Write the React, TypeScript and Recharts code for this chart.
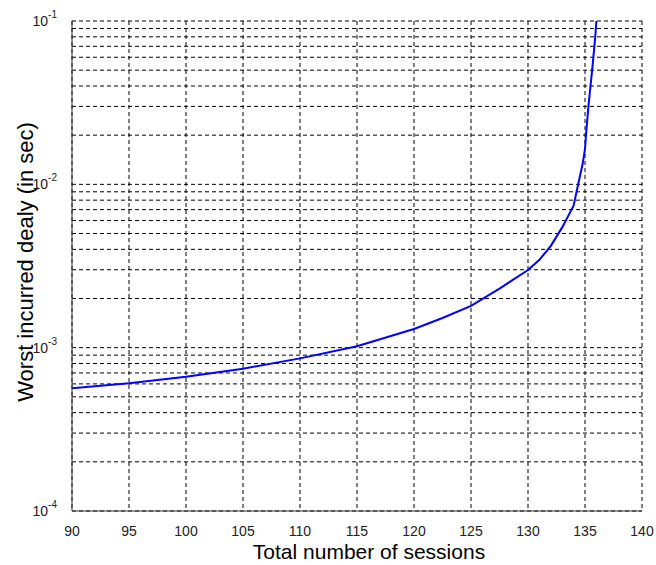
import React from "react"
import { LineChart, Line, XAxis, YAxis, CartesianGrid, Label } from "recharts"

// readings taken off the reference plot
const sessions = [90, 95, 100, 105, 110, 115, 120, 122.5, 125, 127.5, 130, 131, 132, 133, 134, 134.4, 134.8, 135, 135.1, 135.3, 135.65, 135.9, 136]
const worstDelay = [
  5.65e-4, 6.05e-4, 6.64e-4, 7.44e-4, 8.6e-4, 1.02e-3, 1.3e-3, 1.52e-3, 1.8e-3, 2.3e-3, 2.99e-3, 3.45e-3, 4.2e-3,
  5.45e-3, 7.4e-3, 1.0e-2, 1.34e-2, 1.65e-2, 2.05e-2, 3.0e-2, 5.2e-2, 8.0e-2, 1.0e-1,
]

const xTicks = [90, 95, 100, 105, 110, 115, 120, 125, 130, 135, 140]
const yTicks = [
  1e-4, 2e-4, 3e-4, 4e-4, 5e-4, 6e-4, 7e-4, 8e-4, 9e-4,
  1e-3, 2e-3, 3e-3, 4e-3, 5e-3, 6e-3, 7e-3, 8e-3, 9e-3,
  1e-2, 2e-2, 3e-2, 4e-2, 5e-2, 6e-2, 7e-2, 8e-2, 9e-2,
  1e-1,
]

const data = sessions.map((s, i) => ({ s, d: worstDelay[i] }))

const FONT = "Arial, 'Liberation Sans', Helvetica, sans-serif"

const YTick = (props: any) => {
  const { x, y, payload } = props
  const exp = Math.log10(payload.value)
  if (Math.abs(exp - Math.round(exp)) > 1e-6) return null
  return (
    <text x={x - 7} y={y} textAnchor="end" dominantBaseline="central" fontFamily={FONT} fontSize={14} fill="#222">
      10
      <tspan dy={-7} fontSize={10}>
        {Math.round(exp)}
      </tspan>
    </text>
  )
}

const XTick = (props: any) => {
  const { x, y, payload } = props
  return (
    <text x={x} y={y + 17} textAnchor="middle" fontFamily={FONT} fontSize={14} fill="#222">
      {payload.value}
    </text>
  )
}

const XLabel = (props: any) => {
  const vb = props.viewBox
  return (
    <text x={vb.x + vb.width / 2 + 12} y={559} textAnchor="middle" fontFamily={FONT} fontSize={21} fill="#000">
      Total number of sessions
    </text>
  )
}

const YLabel = (props: any) => {
  const vb = props.viewBox
  const cy = vb.y + vb.height / 2 - 4
  return (
    <text
      x={33}
      y={cy}
      transform={`rotate(-90, 33, ${cy})`}
      textAnchor="middle"
      fontFamily={FONT}
      fontSize={22}
      fill="#000"
    >
      Worst incurred dealy (in sec)
    </text>
  )
}

export default function App() {
  return (
    <div style={{ position: "absolute", left: 0, top: 0, width: 656, height: 565, background: "#fff" }}>
      <LineChart width={656} height={565} data={data} margin={{ top: 21, right: 14, bottom: 0, left: 0 }}>
        <CartesianGrid stroke="#000" strokeDasharray="4 3" strokeWidth={1} />
        <XAxis
          dataKey="s"
          type="number"
          domain={[90, 140]}
          ticks={xTicks}
          height={54}
          tick={<XTick />}
          tickLine={false}
          axisLine={{ stroke: "#333" }}
          allowDataOverflow
        >
          <Label content={<XLabel />} />
        </XAxis>
        <XAxis xAxisId="top" orientation="top" type="number" domain={[90, 140]} height={0} tick={false} tickLine={false} axisLine={{ stroke: "#333" }} />
        <YAxis
          scale="log"
          type="number"
          domain={[1e-4, 1e-1]}
          ticks={yTicks}
          width={72}
          tick={<YTick />}
          tickLine={false}
          axisLine={{ stroke: "#333" }}
          interval={0}
          allowDataOverflow
        >
          <Label content={<YLabel />} />
        </YAxis>
        <YAxis yAxisId="right" orientation="right" width={0} tick={false} tickLine={false} axisLine={{ stroke: "#333" }} />
        <Line type="linear" dataKey="d" stroke="#0000ff" strokeWidth={2} dot={false} isAnimationActive={false} />
      </LineChart>
    </div>
  )
}
